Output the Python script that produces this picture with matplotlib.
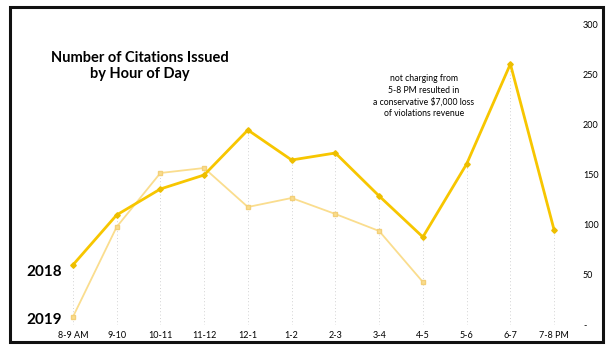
import matplotlib.pyplot as plt
from matplotlib.patches import Rectangle

plt.rcParams['font.family'] = ['Lato', 'DejaVu Sans']

hours = ['8-9 AM', '9-10', '10-11', '11-12', '12-1', '1-2', '2-3',
         '3-4', '4-5', '5-6', '6-7', '7-8 PM']
citations_2018 = [60, 110, 136, 150, 195, 165, 172, 129, 88, 161, 261, 95]
citations_2019 = [8, 98, 152, 157, 118, 127, 111, 94, 43]
yticks = [0, 50, 100, 150, 200, 250, 300]
ytick_labels = ['-', '50', '100', '150', '200', '250', '300']

col_2018 = '#F7C600'
col_2019 = '#FADD8E'

fig = plt.figure(figsize=(6.06, 3.46), dpi=100)
ax = fig.add_axes([51 / 606, 21 / 346, 525 / 606, 300 / 346])

x18 = list(range(len(citations_2018)))
x19 = list(range(len(citations_2019)))

# faint dotted drop lines under each hour
for i in x18:
    top = citations_2018[i]
    if i < len(citations_2019):
        top = max(top, citations_2019[i])
    ax.vlines(i, 0, top, colors='#c4c4c4', linestyles=(0, (1, 3)), lw=0.6, zorder=1)

ax.plot(x19, citations_2019, color=col_2019, lw=1.3, marker='s', ms=3.5,
        mfc=col_2019, mec='#F3CF78', zorder=2)
ax.plot(x18, citations_2018, color=col_2018, lw=2.0, marker='D', ms=2.8,
        mfc='#EDBE00', mec='#EDBE00', zorder=3)

ax.set_xlim(-0.5, 11.5)
ax.set_ylim(0, 300)
ax.set_xticks(x18)
ax.set_xticklabels(hours, fontsize=6.5)
ax.set_yticks(yticks)
ax.set_yticklabels(ytick_labels, fontsize=6.5)
ax.yaxis.tick_right()
ax.tick_params(length=0)
ax.tick_params(axis='x', pad=4)
ax.tick_params(axis='y', pad=5)
for s in ax.spines.values():
    s.set_visible(False)

fig.text(140 / 606, 1 - 66 / 346, 'Number of Citations Issued\nby Hour of Day',
         ha='center', va='center', fontsize=10.5, fontweight='bold',
         linespacing=1.2)
fig.text(424 / 606, 1 - 96 / 346,
         'not charging from\n5-8 PM resulted in\na conservative $7,000 loss\nof violations revenue',
         ha='center', va='center', fontsize=6.2, linespacing=1.35)
fig.text(26 / 606, 1 - 272 / 346, '2018', ha='left', va='center',
         fontsize=11, fontweight='bold')
fig.text(26 / 606, 1 - 320 / 346, '2019', ha='left', va='center',
         fontsize=11, fontweight='bold')

# black frame round the whole chart
fig.patches.append(Rectangle((10 / 606, 4 / 346), 593 / 606, 335 / 346,
                             transform=fig.transFigure, fill=False,
                             edgecolor='#111111', lw=2.2))

fig.savefig('out.png', dpi=100, facecolor='white')
